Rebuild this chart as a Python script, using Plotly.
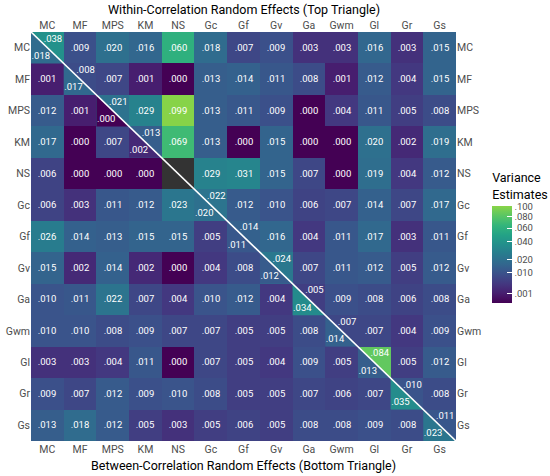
import numpy as np
import plotly.graph_objects as go
from plotly.colors import sample_colorscale

labels = ["MC", "MF", "MPS", "KM", "NS", "Gc", "Gf", "Gv", "Ga", "Gwm", "Gl", "Gr", "Gs"]

# within-correlation values, each row starts at the diagonal (top triangle)
within_rows = [
    [.038, .009, .020, .016, .060, .018, .007, .009, .003, .003, .016, .003, .015],
    [.008, .007, .001, .000, .013, .014, .011, .008, .001, .012, .004, .015],
    [.021, .029, .099, .013, .011, .009, .000, .004, .011, .005, .008],
    [.013, .069, .013, .000, .015, .000, .000, .020, .002, .019],
    [None, .029, .031, .015, .007, .000, .019, .004, .012],
    [.022, .012, .010, .006, .007, .014, .007, .017],
    [.014, .016, .004, .011, .017, .003, .011],
    [.024, .007, .011, .012, .005, .012],
    [.005, .009, .008, .006, .008],
    [.007, .007, .004, .009],
    [.084, .005, .012],
    [.010, .008],
    [.011],
]

# between-correlation values, each row ends at the diagonal (bottom triangle)
between_rows = [
    [.018],
    [.001, .017],
    [.012, .001, .000],
    [.017, .000, .007, .002],
    [.006, .000, .000, .000, None],
    [.006, .003, .011, .012, .023, .020],
    [.026, .014, .013, .015, .015, .005, .011],
    [.015, .002, .014, .002, .000, .004, .008, .012],
    [.010, .011, .022, .007, .004, .010, .012, .004, .034],
    [.010, .010, .008, .009, .007, .007, .005, .005, .008, .014],
    [.003, .003, .004, .011, .000, .007, .005, .004, .009, .005, .013],
    [.009, .007, .012, .009, .010, .008, .005, .005, .007, .006, .007, .035],
    [.013, .018, .012, .005, .003, .005, .006, .005, .008, .008, .009, .008, .023],
]

cbar_vals = [.001, .010, .020, .040, .060, .080, .100]

n = len(labels)
within = np.full((n, n), np.nan)
between = np.full((n, n), np.nan)
for i, row in enumerate(within_rows):
    for k, v in enumerate(row):
        if v is not None:
            within[i, i + k] = v
for i, row in enumerate(between_rows):
    for k, v in enumerate(row):
        if v is not None:
            between[i, k] = v


def fmt(v):
    if v is None or np.isnan(v):
        return ""
    return f"{v:.3f}".lstrip("0")


# full cell matrix: lower = between, upper + diagonal = within
cells = np.where(np.tril(np.ones((n, n)), -1) == 1, between, within)
text = [[fmt(cells[i, j]) if i != j else "" for j in range(n)] for i in range(n)]

zmax = np.sqrt(0.1)
stops = np.linspace(0, 0.82, 11)
cols = sample_colorscale("Viridis", list(stops))
cscale = [[k / 10, c] for k, c in enumerate(cols)]

font = "Roboto"
grey = "#4d4d4d"
cell_font = dict(color="white", size=9.5, family=font)

fig = go.Figure()
fig.add_trace(go.Heatmap(
    x=list(range(n)), y=list(range(n)), z=np.sqrt(cells),
    colorscale=cscale, zmin=0, zmax=zmax,
    text=text, texttemplate="%{text}", textfont=cell_font,
    hoverinfo="skip",
    colorbar=dict(
        title=dict(text="Variance<br>Estimates", side="top",
                   font=dict(size=12.5, color="black", family=font)),
        x=1.085, xanchor="left", y=0.3374, yanchor="bottom",
        lenmode="pixels", len=133, thickness=20, outlinewidth=0,
        xpad=0, ypad=0,
        tickvals=list(np.sqrt(cbar_vals)),
        ticktext=[fmt(v) for v in cbar_vals],
        ticks="inside", tickcolor="white", ticklen=5,
        tickfont=dict(size=9.5, color=grey, family=font),
    ),
))

# bottom-left triangles of the diagonal hold the between values
for i in range(n):
    v = between[i, i]
    if np.isnan(v):
        continue
    c = sample_colorscale(cscale, [np.sqrt(v) / zmax])[0]
    fig.add_trace(go.Scatter(
        x=[i - .5, i - .5, i + .5, i - .5], y=[i - .5, i + .5, i + .5, i - .5],
        fill="toself", fillcolor=c, mode="lines", line=dict(width=0, color=c),
        hoverinfo="skip", showlegend=False))

fig.add_trace(go.Scatter(
    x=[-.5, n - .5], y=[-.5, n - .5], mode="lines",
    line=dict(color="white", width=1.6), hoverinfo="skip", showlegend=False))

diag = [i for i in range(n) if not np.isnan(within[i, i])]
fig.add_trace(go.Scatter(
    x=[i + .17 for i in diag], y=[i - .27 for i in diag], mode="text",
    text=[fmt(within[i, i]) for i in diag], textfont=cell_font,
    hoverinfo="skip", showlegend=False))
fig.add_trace(go.Scatter(
    x=[i - .2 for i in diag], y=[i + .28 for i in diag], mode="text",
    text=[fmt(between[i, i]) for i in diag], textfont=cell_font,
    hoverinfo="skip", showlegend=False))

# dummy trace so the bottom/right axes get drawn
fig.add_trace(go.Scatter(x=[None], y=[None], xaxis="x2", yaxis="y2",
                         showlegend=False, hoverinfo="skip"))

axis_common = dict(tickvals=list(range(n)), ticktext=labels, showgrid=False,
                   zeroline=False, ticks="", showline=False, automargin=False,
                   tickfont=dict(size=10.5, color=grey, family=font))
fig.update_layout(
    width=550, height=476,
    margin=dict(l=31, r=94, t=32, b=35, autoexpand=False),
    paper_bgcolor="white", plot_bgcolor="#333333",
    font=dict(family=font),
    xaxis=dict(range=[-.5, n - .5], side="top", **axis_common),
    yaxis=dict(range=[n - .5, -.5], **axis_common),
    xaxis2=dict(range=[-.5, n - .5], side="bottom", overlaying="x", anchor="y", **axis_common),
    yaxis2=dict(range=[n - .5, -.5], side="right", overlaying="y", anchor="x", **axis_common),
    annotations=[
        dict(text="Within-Correlation Random Effects (Top Triangle)", xref="paper", yref="paper",
             x=0.5, y=1.056, xanchor="center", yanchor="middle", showarrow=False,
             font=dict(size=12.5, color="black", family=font)),
        dict(text="Between-Correlation Random Effects (Bottom Triangle)", xref="paper", yref="paper",
             x=0.5, y=-0.0587, xanchor="center", yanchor="middle", showarrow=False,
             font=dict(size=12.5, color="black", family=font)),
    ],
)

# drop the default page margin so the figure sits at the window's corner
fig.write_html("out.html", config={"displayModeBar": False},
               post_script="document.body.style.margin='0';")
